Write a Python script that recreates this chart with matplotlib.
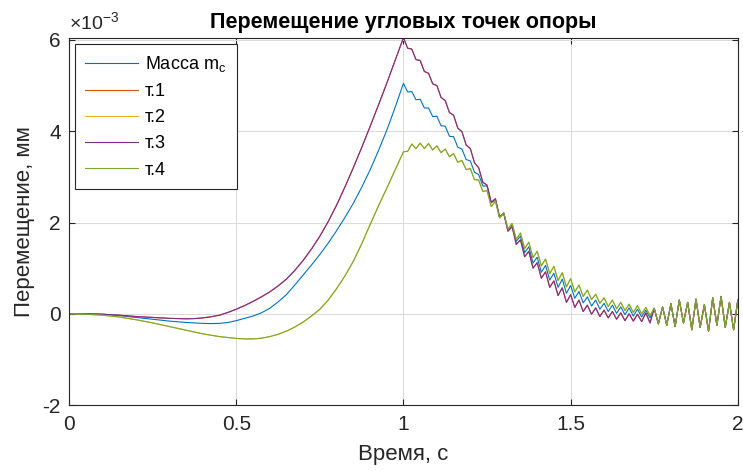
import numpy as np
import matplotlib
matplotlib.use("Agg")
import matplotlib.pyplot as plt
from matplotlib.ticker import FuncFormatter

plt.rcParams["font.family"] = ["Liberation Sans", "DejaVu Sans"]
plt.rcParams["axes.unicode_minus"] = False

# ── Data (displacement, ×1e-3 mm) ────────────────────────────────────────────
# smooth rise, t = 0 .. 0.975 step 0.025
t_rise = np.arange(40) * 0.025
mass_rise = [0.00, 0.00, 0.00, -0.005, -0.01, -0.025, -0.04, -0.06, -0.08, -0.10,
             -0.12, -0.14, -0.16, -0.175, -0.19, -0.20, -0.21, -0.215, -0.21, -0.19,
             -0.15, -0.10, -0.05, 0.02, 0.12, 0.26, 0.42, 0.63, 0.85, 1.07,
             1.30, 1.55, 1.82, 2.11, 2.42, 2.77, 3.15, 3.57, 4.02, 4.52]
p13_rise = [0.00, 0.00, 0.00, -0.005, -0.01, -0.02, -0.03, -0.045, -0.06, -0.07,
            -0.08, -0.09, -0.10, -0.105, -0.11, -0.105, -0.09, -0.065, -0.03, 0.03,
            0.10, 0.18, 0.27, 0.37, 0.48, 0.61, 0.76, 0.95, 1.17, 1.42,
            1.70, 2.02, 2.38, 2.78, 3.20, 3.64, 4.10, 4.57, 5.05, 5.55]
p24_rise = [0.00, 0.00, -0.01, -0.02, -0.03, -0.05, -0.07, -0.10, -0.13, -0.165,
            -0.20, -0.24, -0.28, -0.32, -0.36, -0.40, -0.44, -0.47, -0.50, -0.52,
            -0.54, -0.55, -0.55, -0.535, -0.50, -0.45, -0.38, -0.29, -0.18, -0.05,
            0.10, 0.30, 0.55, 0.83, 1.15, 1.53, 1.95, 2.36, 2.75, 3.15]

# oscillating part, t = 1.0 .. 1.7375 step 0.0125
t_osc = 1.0 + np.arange(60) * 0.0125
mass_osc = [5.05, 4.86, 4.87, 4.69, 4.70, 4.51, 4.51, 4.32, 4.33, 4.12,
            4.11, 3.89, 3.88, 3.65, 3.61, 3.38, 3.35, 3.10, 3.05, 2.80,
            2.80, 2.43, 2.51, 2.12, 2.20, 1.84, 1.95, 1.59, 1.70, 1.34,
            1.47, 1.11, 1.24, 0.91, 1.06, 0.74, 0.89, 0.58, 0.76, 0.45,
            0.62, 0.34, 0.49, 0.24, 0.37, 0.17, 0.30, 0.10, 0.23, 0.05,
            0.19, 0.01, 0.15, -0.02, 0.13, -0.05, 0.10, -0.07, 0.08, -0.09]
p13_osc = [6.05, 5.82, 5.80, 5.57, 5.55, 5.31, 5.27, 5.04, 5.00, 4.74,
           4.67, 4.41, 4.35, 4.07, 3.99, 3.70, 3.62, 3.31, 3.20, 2.88,
           2.82, 2.44, 2.52, 2.12, 2.20, 1.81, 1.91, 1.52, 1.62, 1.25,
           1.37, 1.00, 1.12, 0.78, 0.92, 0.58, 0.72, 0.40, 0.57, 0.25,
           0.42, 0.14, 0.30, 0.05, 0.19, -0.01, 0.13, -0.06, 0.08, -0.09,
           0.05, -0.12, 0.02, -0.15, 0.00, -0.16, -0.01, -0.17, 0.02, -0.20]
p24_osc = [3.55, 3.56, 3.72, 3.62, 3.74, 3.62, 3.73, 3.59, 3.68, 3.53,
           3.61, 3.44, 3.51, 3.32, 3.36, 3.16, 3.18, 2.94, 2.93, 2.68,
           2.70, 2.35, 2.47, 2.10, 2.22, 1.86, 1.98, 1.63, 1.77, 1.43,
           1.57, 1.23, 1.37, 1.05, 1.20, 0.88, 1.04, 0.73, 0.90, 0.59,
           0.77, 0.48, 0.63, 0.38, 0.52, 0.31, 0.43, 0.23, 0.35, 0.16,
           0.30, 0.11, 0.25, 0.07, 0.21, 0.03, 0.18, 0.00, 0.14, -0.04]

# common tail after all curves merge, t = 1.75 .. 2.0 step 0.0125
t_tail = 1.75 + np.arange(21) * 0.0125
tail = [0.12, -0.22, 0.15, -0.25, 0.22, -0.28, 0.30, -0.20, 0.25, -0.35,
        0.32, -0.30, 0.20, -0.38, 0.35, -0.25, 0.38, -0.30, 0.25, -0.35, 0.30]

labels = ["Масса m$_\\mathregular{c}$", "т.1", "т.2", "т.3", "т.4"]
colors = ["#0072BD", "#D95319", "#EDB120", "#7E2F8E", "#77AC30"]

t = np.concatenate([t_rise, t_osc, t_tail])
mass = np.concatenate([mass_rise, mass_osc, tail])
p13 = np.concatenate([p13_rise, p13_osc, tail])
p24 = np.concatenate([p24_rise, p24_osc, tail])
series = [mass, p13, p24, p13, p24]   # т.1 = т.3, т.2 = т.4

# ── Plot ─────────────────────────────────────────────────────────────────────
DARK = "#262626"
fig = plt.figure(figsize=(7.43, 4.71), dpi=100)
ax = fig.add_axes([0.093, 0.140, 0.900, 0.779])

for y, lab, col in zip(series, labels, colors):
    ax.plot(t, y, color=col, lw=0.8, label=lab)

ax.set_xlim(0, 2)
ax.set_ylim(-2, 6.04)
ax.set_xticks([0, 0.5, 1, 1.5, 2])
ax.set_yticks([-2, 0, 2, 4, 6])
ax.xaxis.set_major_formatter(FuncFormatter(lambda v, p: f"{v:g}"))
ax.yaxis.set_major_formatter(FuncFormatter(lambda v, p: f"{v:g}"))

ax.grid(True, color="#DCDCDC", lw=0.8)
ax.set_axisbelow(True)
ax.tick_params(direction="in", top=True, right=True, labelsize=15,
               colors=DARK, length=4)
ax.tick_params(axis="x", pad=7)
ax.tick_params(axis="y", pad=6)
for sp in ax.spines.values():
    sp.set_edgecolor(DARK)
    sp.set_linewidth(0.8)

# exponent label like MATLAB
ax.text(0.0, 1.012, "×10$^{\\mathregular{-3}}$", transform=ax.transAxes,
        fontsize=14, color=DARK, ha="left", va="bottom")

ax.set_title("Перемещение угловых точек опоры", fontsize=15.5,
             fontweight="bold", pad=7)
ax.set_xlabel("Время, с", fontsize=16, color=DARK, labelpad=7)
ax.set_ylabel("Перемещение, мм", fontsize=16, color=DARK, labelpad=5)

leg = ax.legend(loc="upper left", fontsize=13, fancybox=False,
                edgecolor=DARK, framealpha=1, handlelength=2.9,
                handletextpad=0.4, labelspacing=0.5, borderaxespad=0.3,
                borderpad=0.6)
leg.get_frame().set_linewidth(0.8)

fig.savefig("out.png", dpi=100)
